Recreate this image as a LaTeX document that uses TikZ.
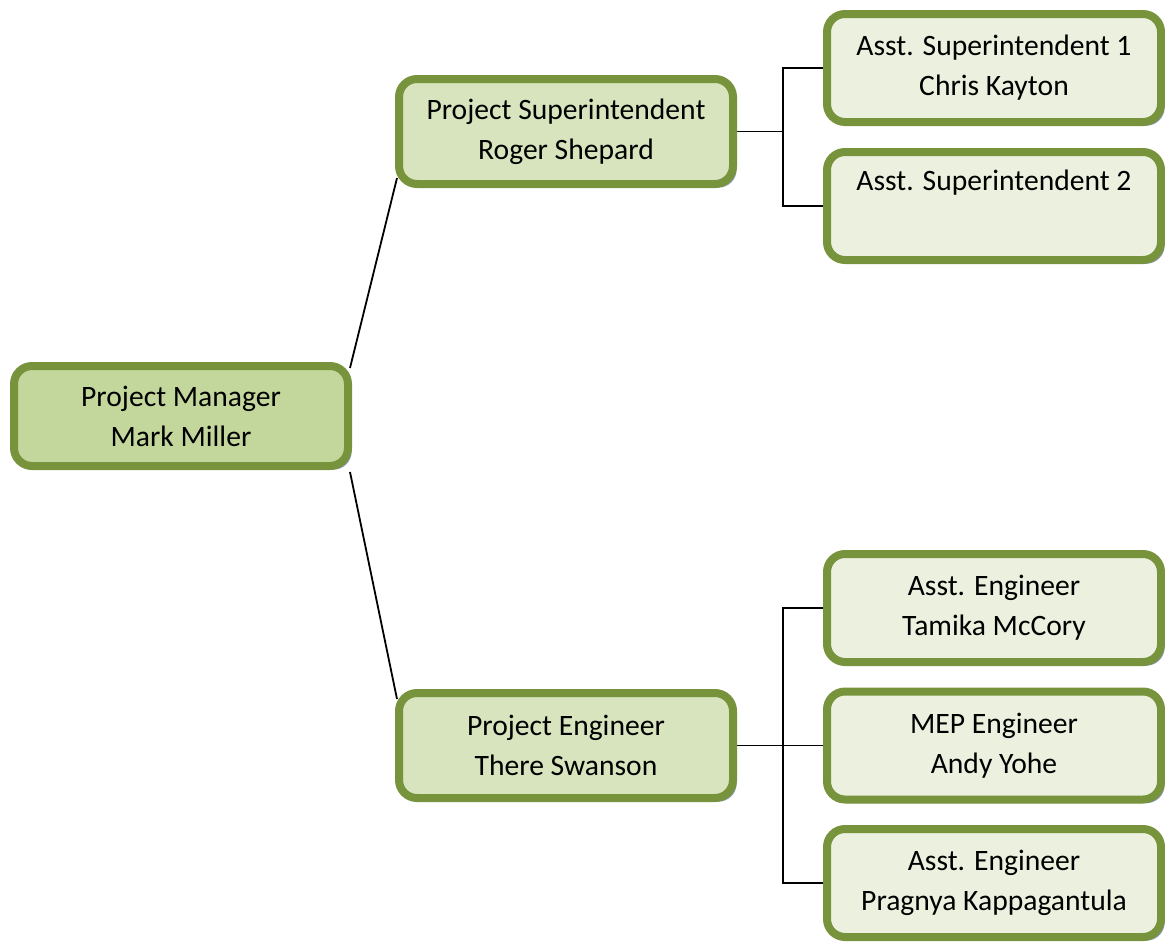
\documentclass[tikz,border=0pt]{standalone}
\usepackage{fontspec}
\setmainfont{Carlito}
\usepackage{tikz}
\usetikzlibrary{calc,shadows,backgrounds}
\definecolor{olivedge}{HTML}{77933C}
\definecolor{olivedark}{HTML}{C3D69B}
\definecolor{olivemid}{HTML}{D7E4BD}
\definecolor{olivelight}{HTML}{EBF1DE}
\definecolor{shadowblue}{HTML}{8C9BB8}

\begin{document}
\begin{tikzpicture}[x=0.5pt, y=-0.5pt,
  orgbox/.style={rectangle, rounded corners=9pt, draw=olivedge, line width=4pt,
    minimum width=167pt, inner sep=0pt, align=center,
    font=\fontsize{14.8}{20}\selectfont,
    drop shadow={shadow xshift=1.8pt, shadow yshift=-1.8pt, fill=shadowblue, opacity=1}},
  topbox/.style={orgbox, fill=olivedark, minimum height=50pt},
  midbox/.style={orgbox, fill=olivemid, minimum height=52.5pt},
  leafbox/.style={orgbox, fill=olivelight, minimum height=54pt},
  link/.style={black, line width=0.9pt}]
  \useasboundingbox (0,0) rectangle (1165,942);

  \node [topbox] (pm) at (181,416) {Project Manager\\Mark Miller};

  \node [midbox] (ps) at (566,131.5) {Project Superintendent\\Roger Shepard};
  \node [midbox] (pe) at (566,745.5) {Project Engineer\\There Swanson};

  \node [leafbox] (asone) at (994,68) {Asst. Superintendent 1\\Chris Kayton};
  \node [leafbox] (astwo) at (994,206) {Asst. Superintendent 2\\\strut};
  \node [leafbox] (aeone) at (994,608) {Asst. Engineer\\Tamika McCory};
  \node [leafbox] (mep) at (994,745.5) {MEP Engineer\\Andy Yohe};
  \node [leafbox] (aetwo) at (994,883) {Asst. Engineer\\Pragnya Kappagantula};

  \begin{scope}[on background layer]
    \draw [link] ($(pm.north east)+(-2,6)$) -- ($(ps.south west)+(2,-10)$);
    \draw [link] ($(pm.south east)+(-2,2)$) -- ($(pe.north west)+(2,10)$);

    \draw [link] (ps.east) -- ++(46,0) coordinate (psfork);
    \draw [link] (asone.west) -| (psfork) |- (astwo.west);

    \draw [link] (pe.east) -- (mep.west);
    \path (pe.east) -- ++(46,0) coordinate (pefork);
    \draw [link] (aeone.west) -| (pefork) |- (aetwo.west);
  \end{scope}
\end{tikzpicture}
\end{document}
